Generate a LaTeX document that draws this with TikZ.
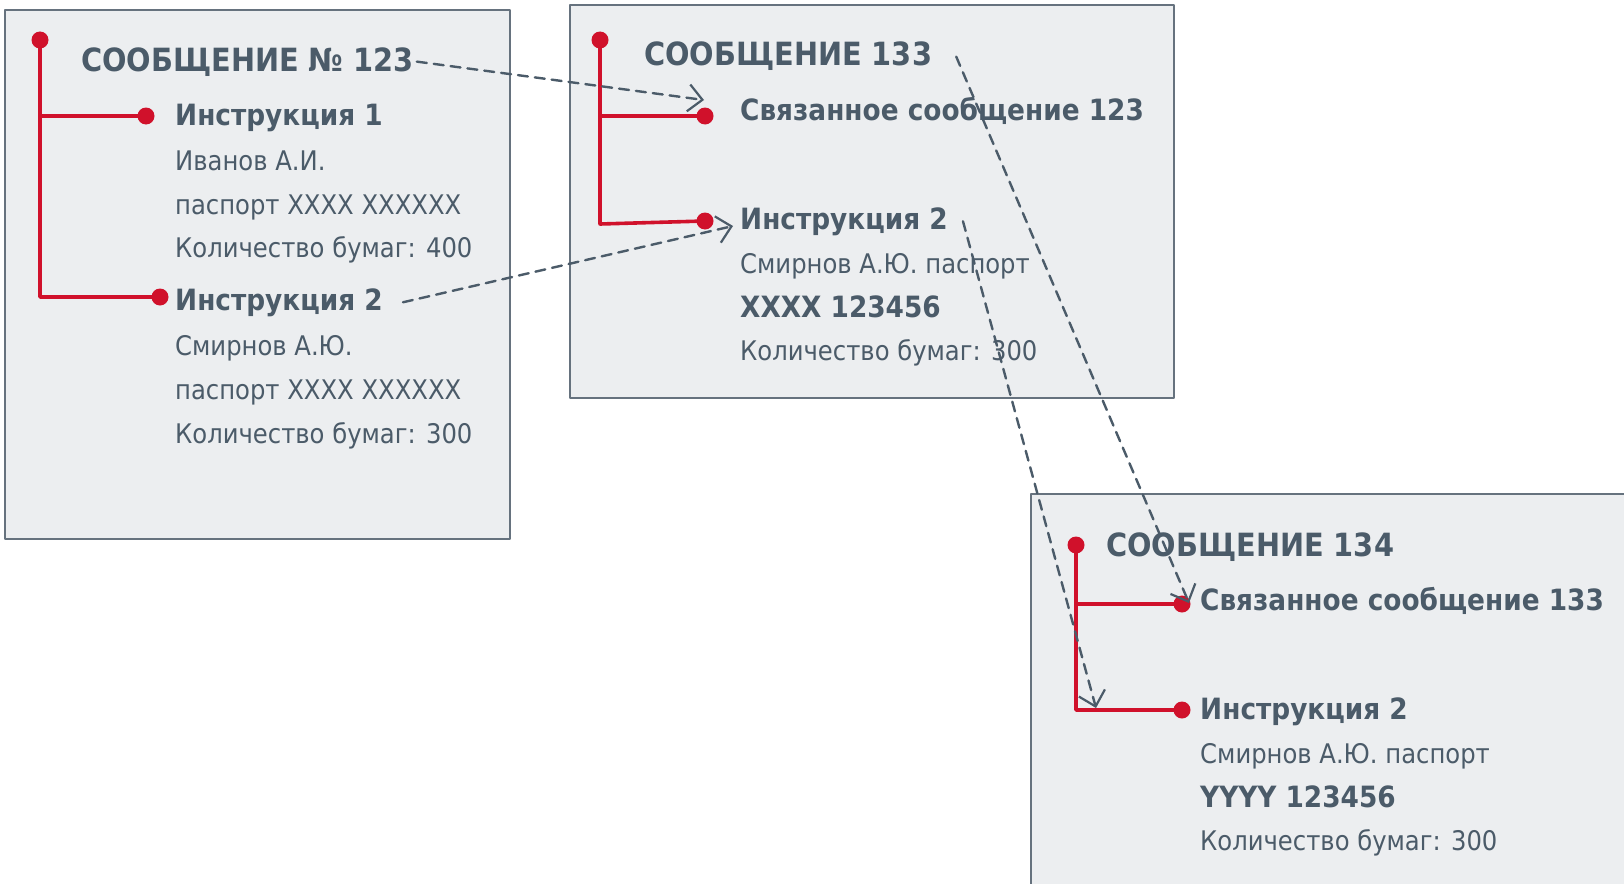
\documentclass[tikz,border=0pt]{standalone}
\usepackage{fontspec}
\setmainfont{DejaVu Sans Condensed}
\usetikzlibrary{arrows.meta,positioning}
\definecolor{inkgray}{HTML}{4B5B69}
\definecolor{redline}{HTML}{D0112B}
\definecolor{boxfill}{HTML}{ECEEF0}
\definecolor{boxedge}{HTML}{66727E}
\tikzset{
  msgbox/.style={draw=boxedge,fill=boxfill,line width=1.4pt},
  stem/.style={draw=redline,line width=3.6pt},
  pin/.style={circle,fill=redline,inner sep=0pt,minimum size=17pt},
  ttl/.style={anchor=base west,inner sep=0pt,text=inkgray,font=\fontsize{32}{38}\selectfont\bfseries},
  hd/.style={anchor=base west,inner sep=0pt,text=inkgray,font=\fontsize{29.3}{35}\selectfont\bfseries},
  ln/.style={anchor=base west,inner sep=0pt,text=inkgray,font=\fontsize{27}{33}\selectfont},
  link/.style={draw=inkgray,line width=2.4pt,dash pattern=on 10pt off 7pt,
    -{Straight Barb[length=14pt,width=27pt,line width=2.2pt]}}
}
\begin{document}
\begin{tikzpicture}[x=1pt,y=-1pt,line cap=round,line join=round]
\useasboundingbox (0,0) rectangle (1624,883);
\fill[white] (0,0) rectangle (1624,883);
\draw[msgbox] (5,10) rectangle (510,539);
\draw[msgbox] (570,5) rectangle (1174,398);
\draw[msgbox] (1031,494) rectangle (1640,900);
% first message
\node[pin] (p10) at (40,40) {};
\node[pin] (p11) at (146,116) {};
\node[pin] (p12) at (160,297) {};
\draw[stem] (p10.center) |- (p12.center) (p10.center |- p11.center) -- (p11.center);
\node[ttl] (t1) at (81,71) {СООБЩЕНИЕ № 123};
\node[hd] (h11) at (175,125) {Инструкция 1};
\node[ln] (l11) at (175,170) {Иванов А.И.};
\node[ln] (l12) at (175,214) {паспорт XXXX XXXXXX};
\node[ln] (l13) at (175,257) {Количество бумаг: 400};
\node[hd] (h12) at (175,310) {Инструкция 2};
\node[ln] (l14) at (175,355) {Смирнов А.Ю.};
\node[ln] (l15) at (175,399) {паспорт XXXX XXXXXX};
\node[ln] (l16) at (175,443) {Количество бумаг: 300};
% second message
\node[pin] (p20) at (600,40) {};
\node[pin] (p21) at (705,116) {};
\node[pin] (p22) at (705,221) {};
\draw[stem] (p20.center) -- (600,224) -- (p22.center) (p20.center |- p21.center) -- (p21.center);
\node[ttl] (t2) at (644,66) {СООБЩЕНИЕ 133};
\node[hd] (h21) at (740,120) {Связанное сообщение 123};
\node[hd] (h22) at (740,229) {Инструкция 2};
\node[ln] (l21) at (740,273) {Смирнов А.Ю. паспорт};
\node[hd] (l22) at (740,317) {XXXX 123456};
\node[ln] (l23) at (740,360) {Количество бумаг: 300};
% third message
\node[pin] (p30) at (1076,545) {};
\node[pin] (p31) at (1182,604) {};
\node[pin] (p32) at (1182,710) {};
\draw[stem] (p30.center) |- (p32.center) (p30.center |- p31.center) -- (p31.center);
\node[ttl] (t3) at (1106,556) {СООБЩЕНИЕ 134};
\node[hd] (h31) at (1200,610) {Связанное сообщение 133};
\node[hd] (h32) at (1200,719) {Инструкция 2};
\node[ln] (l31) at (1200,763) {Смирнов А.Ю. паспорт};
\node[hd] (l32) at (1200,807) {YYYY 123456};
\node[ln] (l33) at (1200,850) {Количество бумаг: 300};
% links
\coordinate (e1) at (704,100);
\coordinate (e2) at (733,226);
\coordinate (e3) at (1189,603);
\coordinate (e4) at (1096,708);
\draw[link] ([xshift=3pt]t1.east) -- (e1);
\draw[link] ([xshift=20pt]h12.east) -- (e2);
\draw[link] ([xshift=24pt]t2.east) -- (e3);
\draw[link] ([xshift=15pt]h22.east) -- (e4);
\end{tikzpicture}
\end{document}
